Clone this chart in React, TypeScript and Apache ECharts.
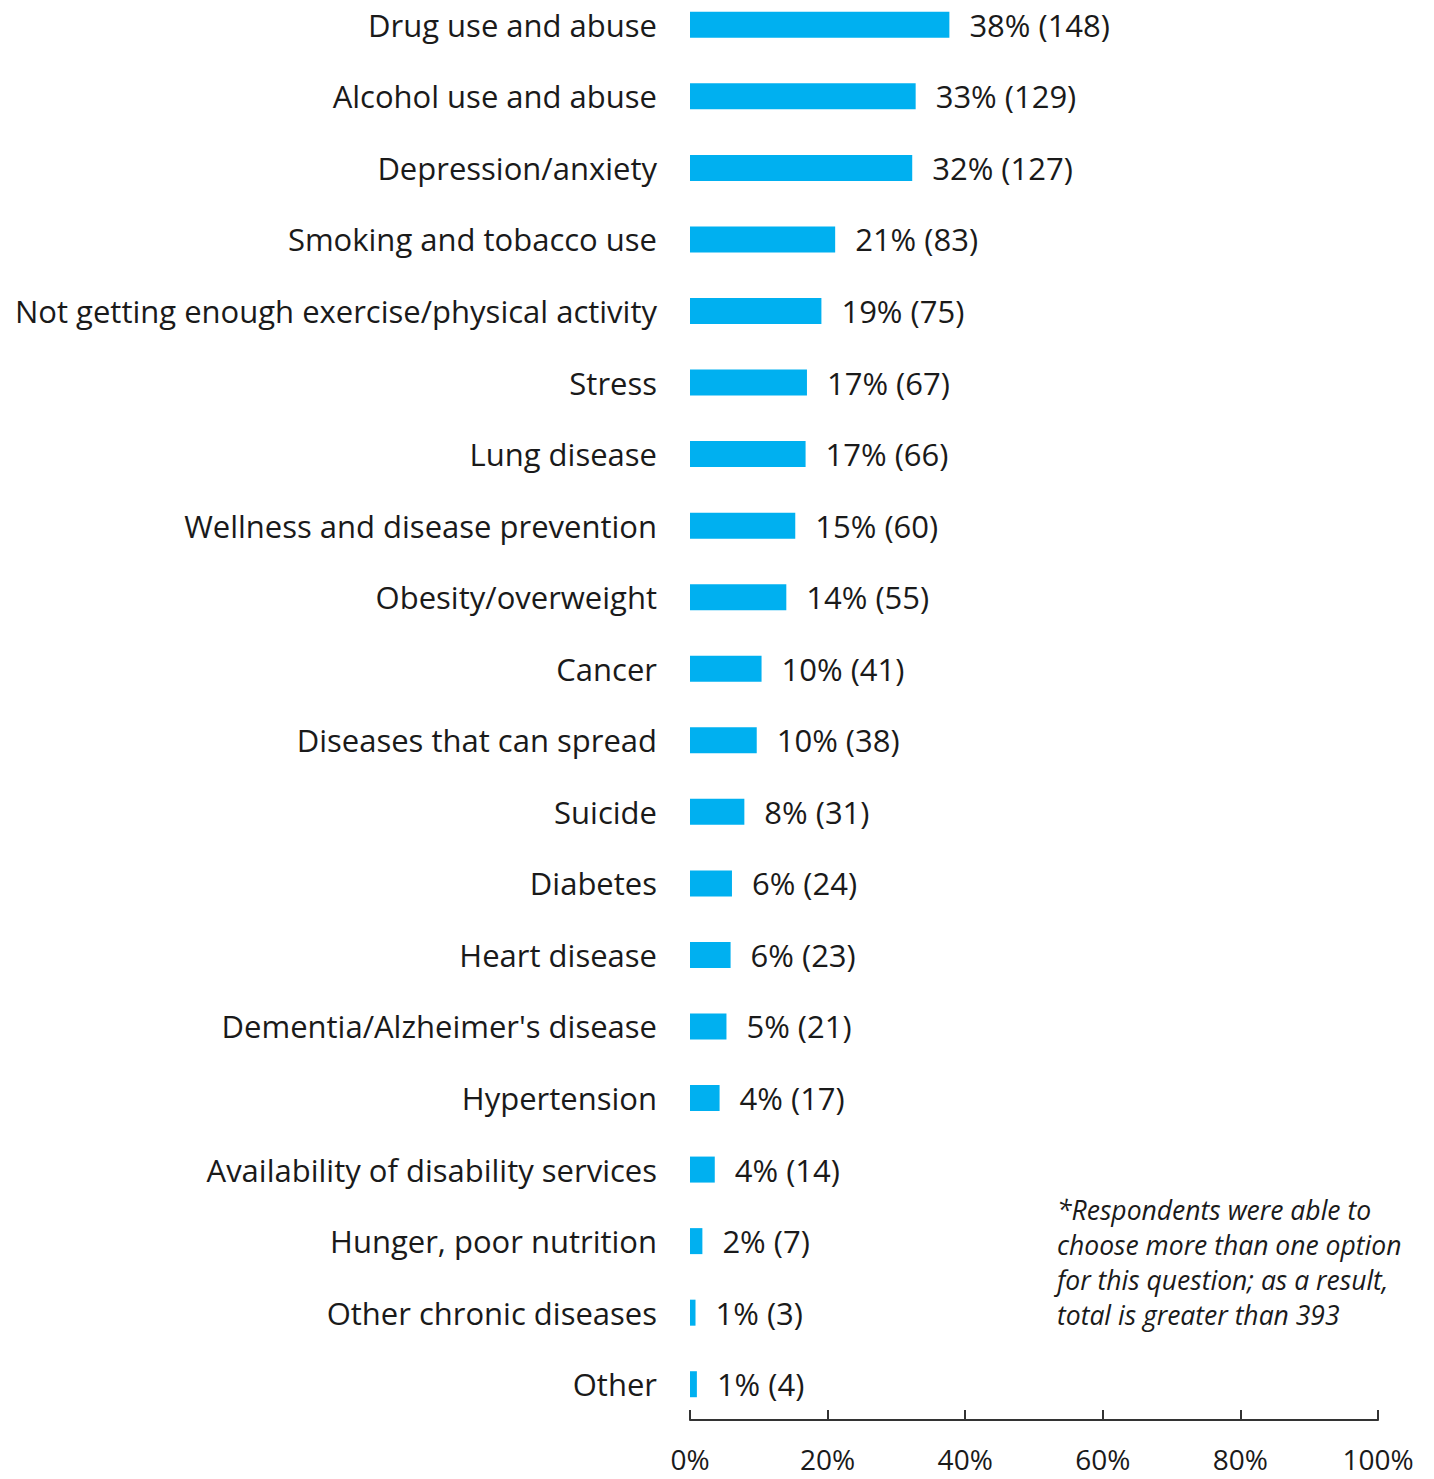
import React, { useEffect, useRef } from "react";
import * as echarts from "echarts";

const categories = [
  "Drug use and abuse",
  "Alcohol use and abuse",
  "Depression/anxiety",
  "Smoking and tobacco use",
  "Not getting enough exercise/physical activity",
  "Stress",
  "Lung disease",
  "Wellness and disease prevention",
  "Obesity/overweight",
  "Cancer",
  "Diseases that can spread",
  "Suicide",
  "Diabetes",
  "Heart disease",
  "Dementia/Alzheimer's disease",
  "Hypertension",
  "Availability of disability services",
  "Hunger, poor nutrition",
  "Other chronic diseases",
  "Other",
];

// bar lengths (percent)
const barValues = [37.7, 32.8, 32.3, 21.1, 19.1, 17.0, 16.8, 15.3, 14.0, 10.4, 9.7, 7.9, 6.1, 5.9, 5.3, 4.3, 3.6, 1.8, 0.8, 1.0];
// displayed labels
const labelPercents = [38, 33, 32, 21, 19, 17, 17, 15, 14, 10, 10, 8, 6, 6, 5, 4, 4, 2, 1, 1];
const counts = [148, 129, 127, 83, 75, 67, 66, 60, 55, 41, 38, 31, 24, 23, 21, 17, 14, 7, 3, 4];

const xTicks = [0, 20, 40, 60, 80, 100];

const footnoteLines = [
  "*Respondents were able to",
  "choose more than one option",
  "for this question; as a result,",
  "total is greater than 393",
];

const FONT = "Open Sans";
const TEXT = "#1a1a1a";
const BAR = "#00B0F0";

export default function App() {
  const ref = useRef<HTMLDivElement>(null);
  useEffect(() => {
    if (!ref.current) return;
    const chart = echarts.init(ref.current, null, { renderer: "svg" });
    chart.setOption({
      animation: false,
      backgroundColor: "#ffffff",
      grid: { left: 690, right: 56, top: 0, bottom: 59, containLabel: false },
      xAxis: {
        type: "value",
        min: xTicks[0],
        max: xTicks[xTicks.length - 1],
        interval: 20,
        axisLine: { show: true, lineStyle: { color: "#333333", width: 2 } },
        axisTick: { show: true, inside: true, length: 10, lineStyle: { color: "#333333", width: 2 } },
        splitLine: { show: false },
        axisLabel: {
          formatter: (v: number) => `${v}%`,
          fontFamily: FONT,
          fontSize: 28,
          color: TEXT,
          margin: 25,
        },
      },
      yAxis: {
        type: "category",
        inverse: true,
        data: categories,
        axisLine: { show: false },
        axisTick: { show: false },
        axisLabel: {
          fontFamily: FONT,
          fontSize: 31,
          color: TEXT,
          margin: 33,
        },
      },
      series: [
        {
          type: "bar",
          data: barValues,
          barWidth: 26,
          itemStyle: { color: BAR },
          label: {
            show: true,
            position: "right",
            distance: 20,
            fontFamily: FONT,
            fontSize: 31,
            color: TEXT,
            formatter: (p: any) => `${labelPercents[p.dataIndex]}% (${counts[p.dataIndex]})`,
          },
        },
      ],
      graphic: [
        {
          type: "text",
          left: 1057,
          top: 1203,
          style: {
            text: footnoteLines.join("\n"),
            fontFamily: FONT,
            fontStyle: "italic",
            fontSize: 26.5,
            lineHeight: 35,
            fill: TEXT,
          },
        },
      ],
    });
    return () => chart.dispose();
  }, []);
  return (
    <div
      ref={ref}
      style={{ position: "absolute", left: 0, top: -11, width: 1434, height: 1490 }}
    />
  );
}
